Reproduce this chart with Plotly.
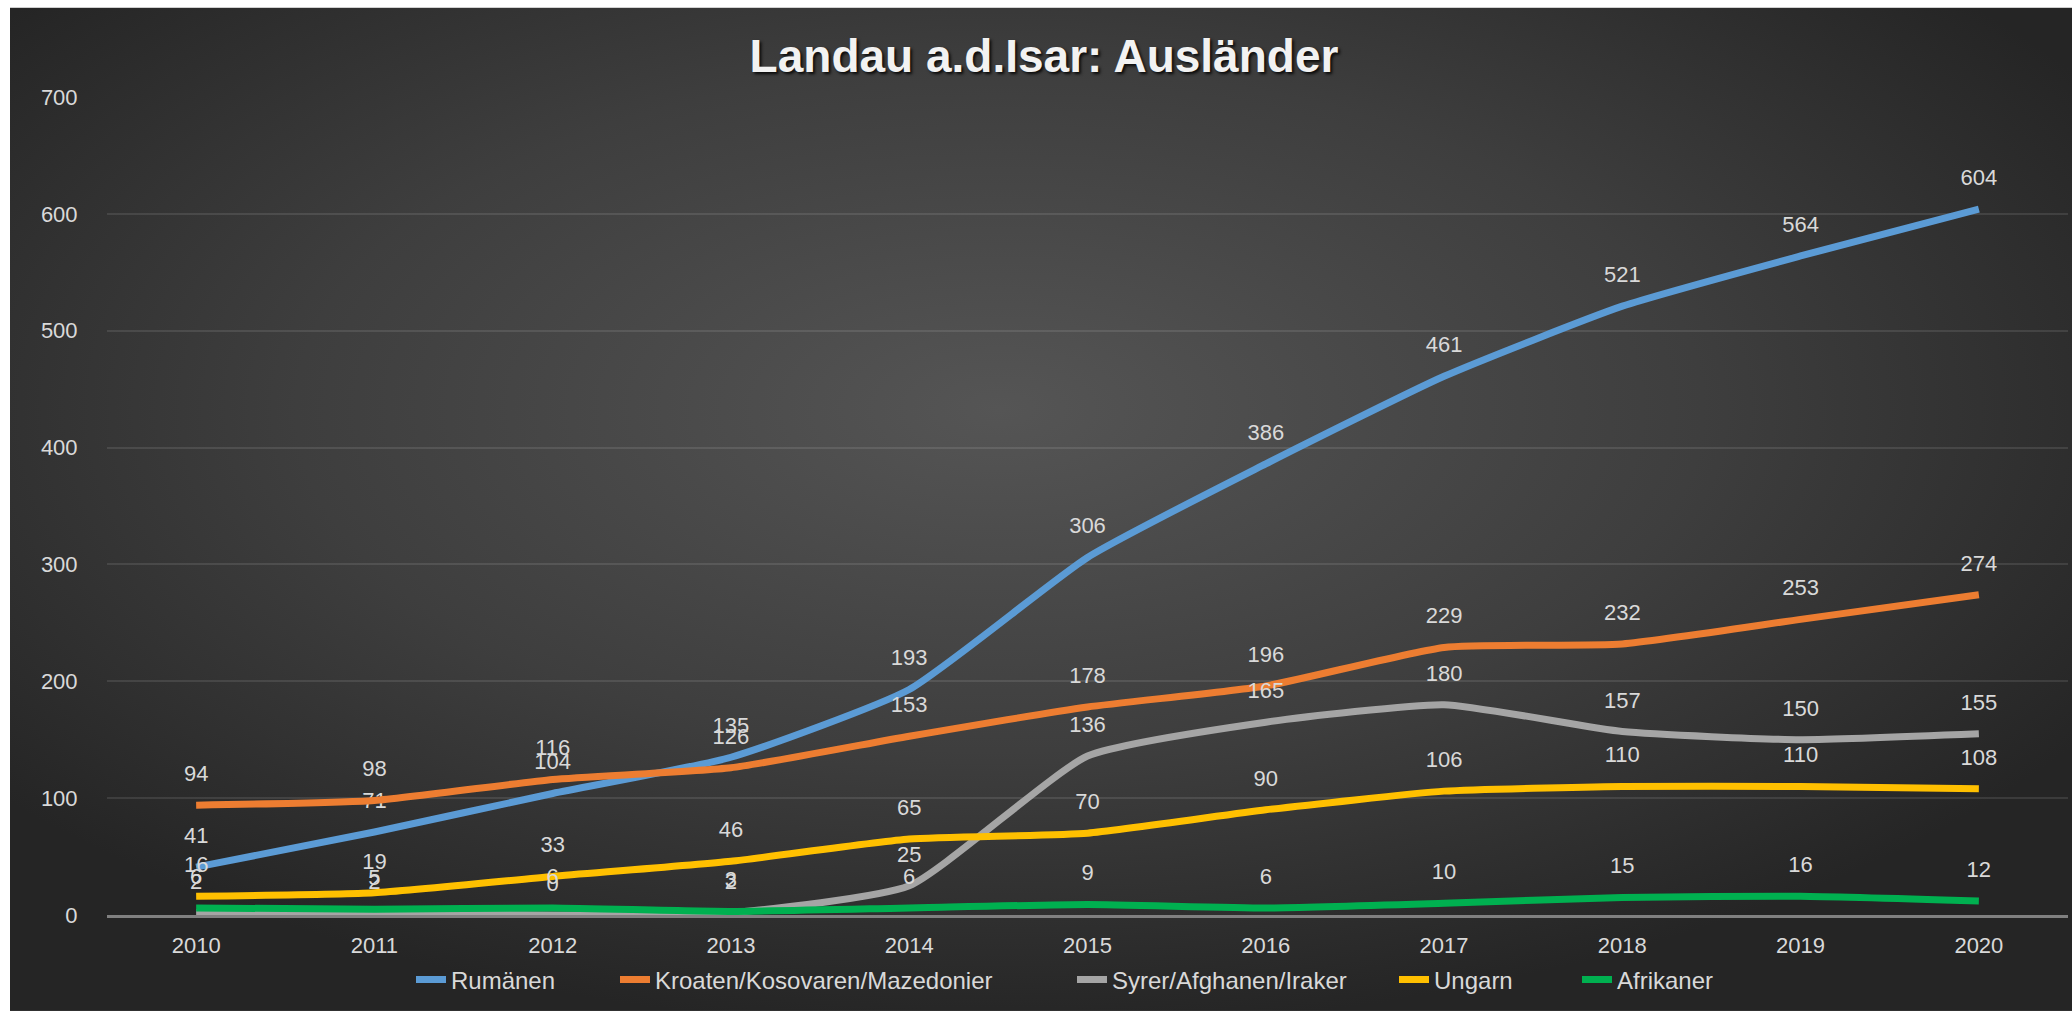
import base64
import plotly.graph_objects as go

years = ["2010", "2011", "2012", "2013", "2014", "2015", "2016", "2017", "2018", "2019", "2020"]
rumaenen = [41, 71, 104, 135, 193, 306, 386, 461, 521, 564, 604]
kroaten = [94, 98, 116, 126, 153, 178, 196, 229, 232, 253, 274]
syrer = [2, 2, 0, 2, 25, 136, 165, 180, 157, 150, 155]
ungarn = [16, 19, 33, 46, 65, 70, 90, 106, 110, 110, 108]
afrikaner = [6, 5, 6, 3, 6, 9, 6, 10, 15, 16, 12]

series = [
    ("Rumänen", rumaenen, "#5b9bd5"),
    ("Kroaten/Kosovaren/Mazedonier", kroaten, "#ed7d31"),
    ("Syrer/Afghanen/Iraker", syrer, "#a5a5a5"),
    ("Ungarn", ungarn, "#ffc000"),
    ("Afrikaner", afrikaner, "#00b050"),
]
# left pixel where each legend label's text begins in the reference
legend_text_x = [453, 657, 1114, 1436, 1619]

W, H = 2072, 1011
ML, MR, MT, MB = 107, 4, 96.5, 96
PW = W - ML - MR
PH = H - MT - MB

svg = f'''<svg xmlns="http://www.w3.org/2000/svg" width="{W}" height="{H}" viewBox="0 0 {W} {H}" preserveAspectRatio="none">
<defs><radialGradient id="g" cx="48%" cy="40%" r="62%">
<stop offset="0%" stop-color="#555555"/>
<stop offset="55%" stop-color="#3e3e3e"/>
<stop offset="100%" stop-color="#252525"/>
</radialGradient></defs>
<rect x="0" y="0" width="{W}" height="{H}" fill="url(#g)"/></svg>'''
bg_uri = "data:image/svg+xml;base64," + base64.b64encode(svg.encode()).decode()

FONT = "Liberation Sans, Arial, sans-serif"
LABEL = "#d9d9d9"

fig = go.Figure()
legends = {}
for i, (name, vals, col) in enumerate(series):
    lname = "legend" if i == 0 else f"legend{i + 1}"
    fig.add_trace(go.Scatter(
        x=years, y=vals, name=name, legend=lname,
        mode="lines+markers+text",
        line=dict(color=col, width=7, shape="spline", smoothing=0.5),
        marker=dict(size=28, color="rgba(0,0,0,0)"),
        text=[str(v) for v in vals],
        textposition="top center",
        textfont=dict(family=FONT, size=22, color=LABEL),
        hoverinfo="x+y+name",
    ))
    legends[lname] = dict(
        orientation="h",
        x=(legend_text_x[i] - 42 - ML) / PW, xanchor="left",
        y=(H - MB - 980) / PH, yanchor="middle",
        font=dict(family=FONT, size=24, color=LABEL),
        bgcolor="rgba(0,0,0,0)", itemclick=False, itemdoubleclick=False,
    )

fig.add_layout_image(dict(
    source=bg_uri, xref="paper", yref="paper",
    x=(10 - ML) / PW, y=(H - MB - 7) / PH,
    sizex=(W - 10) / PW, sizey=(H - 7) / PH,
    xanchor="left", yanchor="top", sizing="stretch", layer="below",
))

fig.update_layout(
    width=W, height=H,
    margin=dict(l=ML, r=MR, t=MT, b=MB, pad=0),
    paper_bgcolor="white",
    plot_bgcolor="rgba(0,0,0,0)",
    title=dict(
        text="Landau a.d.Isar: Ausländer",
        x=1044 / W, xanchor="center", xref="container",
        y=1 - 56 / H, yanchor="middle", yref="container",
        font=dict(family=FONT, size=46, color="#f2f2f2", weight="bold",
                  shadow="2px 2px 3px rgba(0,0,0,0.85)"),
    ),
    showlegend=True,
    xaxis=dict(
        type="category", range=[-0.5, 10.5], showgrid=False, showline=True,
        linecolor="#808080", linewidth=2.5,
        ticks="outside", ticklen=9, tickcolor="rgba(0,0,0,0)",
        tickfont=dict(family=FONT, size=22, color=LABEL),
        fixedrange=True,
    ),
    yaxis=dict(
        range=[0, 700], dtick=100, showgrid=True,
        gridcolor="rgba(255,255,255,0.10)", gridwidth=1.5,
        zeroline=False, showline=False,
        ticks="outside", ticklen=24, tickcolor="rgba(0,0,0,0)",
        tickfont=dict(family=FONT, size=22, color=LABEL),
        fixedrange=True,
    ),
    **legends,
)

fig.write_html(
    "out.html",
    config={"displayModeBar": False},
    post_script="document.body.style.margin='0';document.body.style.overflow='hidden';",
)
